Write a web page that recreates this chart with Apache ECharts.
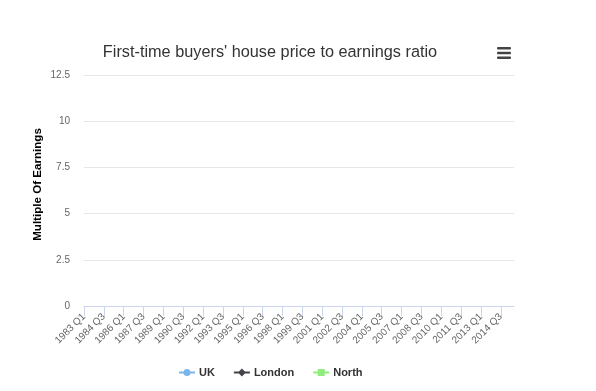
<!DOCTYPE html>
<html>
<head>
<meta charset="utf-8">
<script src="https://cdn.jsdelivr.net/npm/echarts@6/dist/echarts.min.js"></script>
<style>
html,body{margin:0;padding:0;background:#fff;}
#c{width:596px;height:391px;}
</style>
</head>
<body>
<div id="c"></div>
<script>
var categories = [
"1983 Q1","1983 Q2","1983 Q3","1983 Q4","1984 Q1","1984 Q2","1984 Q3","1984 Q4",
"1985 Q1","1985 Q2","1985 Q3","1985 Q4","1986 Q1","1986 Q2","1986 Q3","1986 Q4",
"1987 Q1","1987 Q2","1987 Q3","1987 Q4","1988 Q1","1988 Q2","1988 Q3","1988 Q4",
"1989 Q1","1989 Q2","1989 Q3","1989 Q4","1990 Q1","1990 Q2","1990 Q3","1990 Q4",
"1991 Q1","1991 Q2","1991 Q3","1991 Q4","1992 Q1","1992 Q2","1992 Q3","1992 Q4",
"1993 Q1","1993 Q2","1993 Q3","1993 Q4","1994 Q1","1994 Q2","1994 Q3","1994 Q4",
"1995 Q1","1995 Q2","1995 Q3","1995 Q4","1996 Q1","1996 Q2","1996 Q3","1996 Q4",
"1997 Q1","1997 Q2","1997 Q3","1997 Q4","1998 Q1","1998 Q2","1998 Q3","1998 Q4",
"1999 Q1","1999 Q2","1999 Q3","1999 Q4","2000 Q1","2000 Q2","2000 Q3","2000 Q4",
"2001 Q1","2001 Q2","2001 Q3","2001 Q4","2002 Q1","2002 Q2","2002 Q3","2002 Q4",
"2003 Q1","2003 Q2","2003 Q3","2003 Q4","2004 Q1","2004 Q2","2004 Q3","2004 Q4",
"2005 Q1","2005 Q2","2005 Q3","2005 Q4","2006 Q1","2006 Q2","2006 Q3","2006 Q4",
"2007 Q1","2007 Q2","2007 Q3","2007 Q4","2008 Q1","2008 Q2","2008 Q3","2008 Q4",
"2009 Q1","2009 Q2","2009 Q3","2009 Q4","2010 Q1","2010 Q2","2010 Q3","2010 Q4",
"2011 Q1","2011 Q2","2011 Q3","2011 Q4","2012 Q1","2012 Q2","2012 Q3","2012 Q4",
"2013 Q1","2013 Q2","2013 Q3","2013 Q4","2014 Q1","2014 Q2","2014 Q3","2014 Q4",
"2015 Q1","2015 Q2","2015 Q3"
];
// The reference chart shows no plotted values for any series.
var ukValues = [];
var londonValues = [];
var northValues = [];
var seriesNames = ["UK", "London", "North"];
var yTicks = [0, 2.5, 5, 7.5, 10, 12.5];

var chart = echarts.init(document.getElementById('c'), null, {renderer: 'canvas'});
var FONT = '"Liberation Sans", Arial, sans-serif';
var option = {
  animation: false,
  backgroundColor: '#ffffff',
  title: {
    text: "First-time buyers' house price to earnings ratio",
    left: 265, top: 40, textAlign: 'center',
    textStyle: {fontFamily: FONT, fontSize: 16.3, fontWeight: 'normal', color: '#333333'}
  },
  legend: {
    left: 174, top: 362,
    itemGap: 19,
    itemWidth: 16, itemHeight: 10,
    textStyle: {fontFamily: FONT, fontSize: 11, fontWeight: 'bold', color: '#333333', padding: [0, 0, 0, -1]},
    data: [
      {name: seriesNames[0], icon: 'path://M0,4H16V6H0Z M8,1.5A3.5,3.5 0 1,1 8,8.5A3.5,3.5 0 1,1 8,1.5Z'},
      {name: seriesNames[1], icon: 'path://M0,4H16V6H0Z M8,1L12,5L8,9L4,5Z'},
      {name: seriesNames[2], icon: 'path://M0,4H16V6H0Z M4.5,1.5H11.5V8.5H4.5Z'}
    ]
  },
  grid: {left: 84, right: 82, top: 75, bottom: 85, containLabel: false},
  xAxis: {
    type: 'category',
    data: categories,
    boundaryGap: false,
    axisLine: {lineStyle: {color: '#ccd6eb', width: 1}},
    axisTick: {show: true, interval: 5, length: 10, lineStyle: {color: '#ccd6eb'}},
    axisLabel: {interval: 5, rotate: 45, color: '#666666', fontFamily: FONT, fontSize: 10, margin: 9},
    splitLine: {show: false}
  },
  yAxis: {
    type: 'value',
    min: yTicks[0], max: yTicks[yTicks.length - 1], interval: 2.5,
    name: 'Multiple Of Earnings',
    nameLocation: 'middle',
    nameGap: 40,
    nameMoveOverlap: false,
    nameRotate: 90,
    nameTextStyle: {fontFamily: FONT, fontSize: 11.6, fontWeight: 'bold', color: '#000000', padding: [0, 0, 0, 12]},
    axisLine: {show: false},
    axisTick: {show: false},
    axisLabel: {color: '#666666', fontFamily: FONT, fontSize: 10, margin: 14},
    splitLine: {lineStyle: {color: '#e6e6e6', width: 1}}
  },
  series: [
    {name: seriesNames[0], type: 'line', data: ukValues, color: '#7cb5ec', symbol: 'circle'},
    {name: seriesNames[1], type: 'line', data: londonValues, color: '#434348', symbol: 'diamond'},
    {name: seriesNames[2], type: 'line', data: northValues, color: '#90ed7d', symbol: 'rect'}
  ],
  graphic: [
    {type: 'rect', shape: {x: 497, y: 47, width: 14, height: 2.6, r: 1}, style: {fill: '#444444'}},
    {type: 'rect', shape: {x: 497, y: 51.7, width: 14, height: 2.6, r: 1}, style: {fill: '#444444'}},
    {type: 'rect', shape: {x: 497, y: 56.4, width: 14, height: 2.6, r: 1}, style: {fill: '#444444'}}
  ]
};
chart.setOption(option);
</script>
</body>
</html>
